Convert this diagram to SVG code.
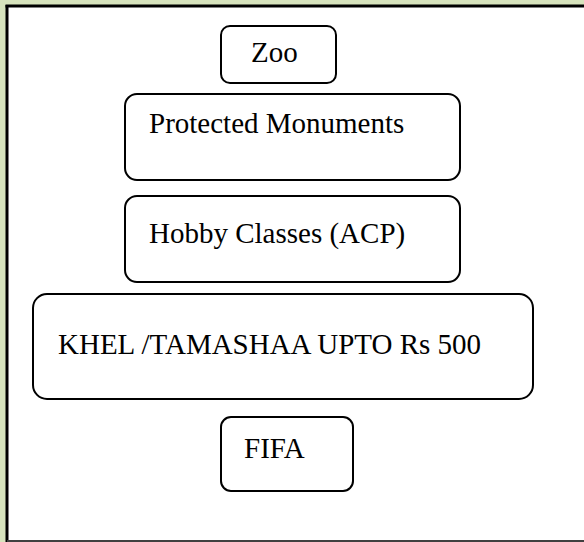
<svg xmlns="http://www.w3.org/2000/svg" width="584" height="542" viewBox="0 0 584 542">
<style>
.box{fill:#ffffff;stroke:#000000;stroke-width:2}
.lbl{font-family:"Liberation Serif","Times New Roman",serif;font-size:29px;fill:#000000}
</style>
<rect x="0" y="0" width="584" height="542" fill="#d7e4bd"/>
<rect x="7" y="6" width="578" height="536" fill="#ffffff"/>
<line x1="7" y1="5" x2="7" y2="542" stroke="#000000" stroke-width="3"/>
<line x1="5.5" y1="6" x2="584" y2="6" stroke="#000000" stroke-width="3"/>
<line x1="7" y1="541" x2="584" y2="541" stroke="#404040" stroke-width="2"/>
<g id="connectors"></g>
<g id="zoo">
<rect class="box" x="221" y="26" width="115" height="57" rx="9"/>
<text class="lbl" x="251" y="62">Zoo</text>
</g>
<g id="protected-monuments">
<rect class="box" x="125" y="94" width="335" height="86" rx="12"/>
<text class="lbl" x="149" y="133">Protected Monuments</text>
</g>
<g id="hobby-classes">
<rect class="box" x="125" y="196" width="335" height="86" rx="12"/>
<text class="lbl" x="149" y="243">Hobby Classes (ACP)</text>
</g>
<g id="khel-tamashaa">
<rect class="box" x="33" y="294" width="500" height="105" rx="14"/>
<text class="lbl" x="58" y="354">KHEL /TAMASHAA UPTO Rs 500</text>
</g>
<g id="fifa">
<rect class="box" x="221" y="417" width="132" height="74" rx="10"/>
<text class="lbl" x="244" y="458">FIFA</text>
</g>
</svg>
